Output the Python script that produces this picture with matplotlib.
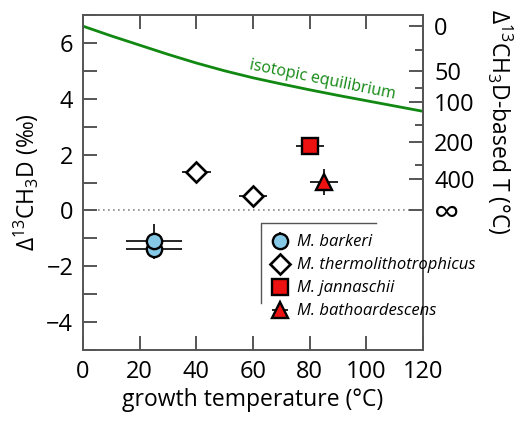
import numpy as np
import matplotlib.pyplot as plt

plt.rcParams['font.family'] = ['Open Sans', 'DejaVu Sans']
plt.rcParams['mathtext.fontset'] = 'custom'
plt.rcParams['mathtext.rm'] = 'Open Sans'
plt.rcParams['mathtext.it'] = 'Open Sans:italic'

# equilibrium curve
eq_T = [0, 10, 20, 30, 40, 50, 60, 70, 80, 90, 100, 110, 120]
eq_D = [6.60, 6.25, 5.92, 5.59, 5.28, 5.00, 4.75, 4.53, 4.32, 4.12, 3.93, 3.74, 3.55]

# right axis: clumped-isotope temperature scale
right_labels = ['0', '50', '100', '200', '400', '∞']
right_major = [6.60, 4.99, 3.88, 2.44, 1.12, 0.0]
right_minor = [5.73, 4.39, 3.06, 1.63]

# cultures
barkeri_T = [25, 25]
barkeri_D = [-1.37, -1.09]
barkeri_xerr = [10, 10]
barkeri_yerr = [0.37, 0.62]

thermo_T = [40, 60]
thermo_D = [1.38, 0.52]
thermo_xerr = [5, 5]

jann_T = [80]
jann_D = [2.29]
jann_xerr = [5]

batho_T = [85]
batho_D = [1.02]
batho_xerr = [5]
batho_yerr = [0.45]

fig = plt.figure(figsize=(5.22, 4.21), dpi=100)
ax = fig.add_axes([83/522, 71/421, 340/522, 335/421])

spine_col = '#555555'
for s in ax.spines.values():
    s.set_color(spine_col)
    s.set_linewidth(1.4)

ax.plot(eq_T, eq_D, color='#118811', lw=2.0, zorder=2)
ax.text(84.5, 4.66, 'isotopic equilibrium', color='#118811', fontsize=11.5,
        rotation=-11.5, ha='center', va='center')
ax.axhline(0, color='#888888', lw=1.2, ls=(0, (1, 2)), zorder=1)

eb = dict(ecolor='black', elinewidth=1.2, capsize=0, ls='none', zorder=3)
ax.errorbar(barkeri_T, barkeri_D, xerr=barkeri_xerr, yerr=barkeri_yerr,
            marker='o', ms=11, mfc='#85c9e6', mec='black', mew=1.7,
            label='M. barkeri', **eb)
ax.errorbar(thermo_T, thermo_D, xerr=thermo_xerr, marker='D', ms=10.5,
            mfc='white', mec='black', mew=1.9,
            label='M. thermolithotrophicus', **eb)
ax.errorbar(jann_T, jann_D, xerr=jann_xerr, marker='s', ms=11,
            mfc='#ee1111', mec='black', mew=1.7,
            label='M. jannaschii', **eb)
ax.errorbar(batho_T, batho_D, xerr=batho_xerr, yerr=batho_yerr, marker='^',
            ms=12, mfc='#ee1111', mec='black', mew=1.7,
            label='M. bathoardescens', **eb)

ax.set_xlim(0, 120)
ax.set_ylim(-5, 7)
ax.set_xticks(np.arange(0, 121, 20))
ax.set_yticks(np.arange(-4, 7, 2))
ax.set_yticks(np.arange(-5, 8, 1), minor=True)
ax.set_yticklabels(['−4', '−2', '0', '2', '4', '6'])
ax.tick_params(axis='both', which='both', direction='in', length=10,
               width=1.4, color=spine_col, labelsize=17, top=True)
ax.tick_params(axis='x', pad=7)
ax.tick_params(axis='y', pad=7)
ax.set_xlabel('growth temperature (°C)', fontsize=16.5, labelpad=3)
ax.set_ylabel('Δ$^{13}$CH$_3$D (‰)', fontsize=16.5, labelpad=4)

ax2 = ax.twinx()
ax2.set_ylim(ax.get_ylim())
ax2.spines['right'].set_bounds(0, 7)
ax2.spines['right'].set_color(spine_col)
ax2.spines['right'].set_linewidth(1.4)
for s in ['top', 'bottom', 'left']:
    ax2.spines[s].set_visible(False)
ax2.set_yticks(right_major)
ax2.set_yticklabels(right_labels)
ax2.set_yticks(right_minor, minor=True)
ax2.tick_params(axis='y', which='major', direction='in', length=10,
                width=1.4, color=spine_col, labelsize=17, pad=8)
ax2.tick_params(axis='y', which='minor', direction='in', length=6,
                width=1.4, color=spine_col)
ax2.get_yticklabels()[-1].set_fontsize(26)
ax2.text(1.225, 0.68, 'Δ$^{13}$CH$_3$D-based T (°C)', transform=ax.transAxes,
         rotation=270, ha='center', va='center', fontsize=16.5)

leg = ax.legend(loc='upper left', bbox_to_anchor=(0.54, 0.36), frameon=False,
                fontsize=12, handlelength=1.0, handletextpad=0.5,
                labelspacing=0.42, borderaxespad=0, borderpad=0.3)
for t in leg.get_texts():
    t.set_fontstyle('italic')
# legend frame: only top and left edges
ax.plot([0.524, 0.524, 0.862], [0.14, 0.379, 0.379], transform=ax.transAxes,
        color='#555555', lw=1.0, clip_on=False)

fig.savefig('out.png', dpi=100)
